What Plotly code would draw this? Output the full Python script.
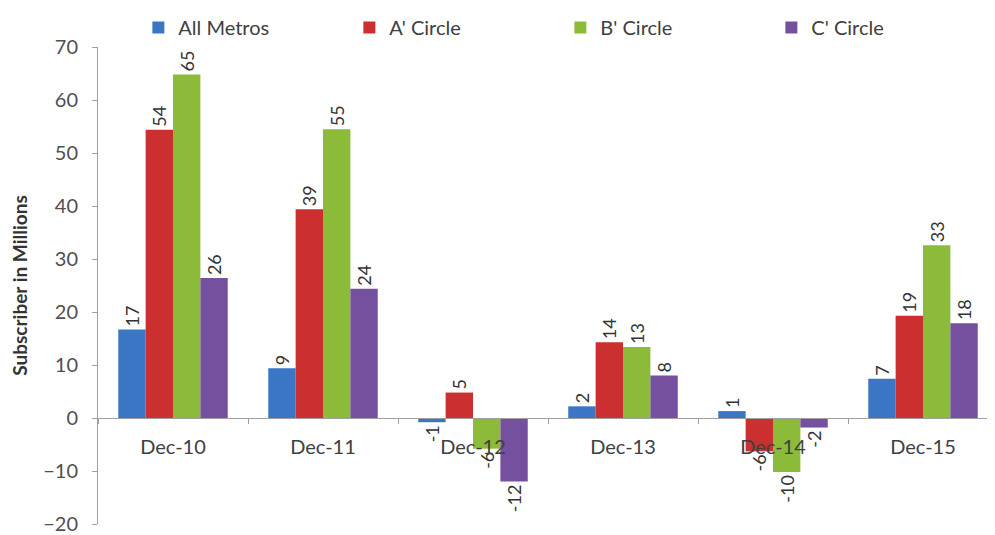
import plotly.graph_objects as go

categories = ["Dec-10", "Dec-11", "Dec-12", "Dec-13", "Dec-14", "Dec-15"]
all_metros = [16.7, 9.4, -0.8, 2.2, 1.3, 7.4]
a_circle = [54.4, 39.4, 4.8, 14.3, -6.3, 19.3]
b_circle = [64.8, 54.5, -5.8, 13.4, -10.2, 32.6]
c_circle = [26.4, 24.4, -12.0, 8.0, -1.8, 17.9]
series_names = ["All Metros", "A' Circle", "B' Circle", "C' Circle"]
y_ticks = [-20, -10, 0, 10, 20, 30, 40, 50, 60, 70]

colors = ["#3B76C4", "#CC2F2F", "#8CBB3A", "#74509E"]
FONT = "Lato, Liberation Sans, sans-serif"

fig = go.Figure()
for name, vals, col in zip(series_names, [all_metros, a_circle, b_circle, c_circle], colors):
    fig.add_trace(go.Bar(
        x=categories, y=vals, name=name,
        marker=dict(color=col, line=dict(width=0)),
        texttemplate="%{y:.0f}", textposition="outside", textangle=-90,
        constraintext="none", cliponaxis=False,
        textfont=dict(family=FONT, size=18, color="#333333"),
    ))

fig.update_layout(
    width=987, height=527,
    margin=dict(l=90, r=0, t=39, b=11, autoexpand=False),
    paper_bgcolor="white", plot_bgcolor="white",
    barmode="group", bargap=0.27, bargroupgap=0,
    font=dict(family=FONT, color="#404040"),
    showlegend=True,
    legend=dict(orientation="h", x=0.045, y=1.0, xref="paper", yref="container",
                yanchor="top", xanchor="left",
                entrywidth=166, entrywidthmode="pixels",
                font=dict(family=FONT, size=20, color="#404040"),
                traceorder="normal"),
    xaxis=dict(range=[-0.5, 5.48], anchor="free", position=20/90,
               showline=True, linecolor="#A0A0A0", linewidth=1,
               ticks="outside", tickson="boundaries", ticklen=5, tickcolor="#A0A0A0",
               ticklabelstandoff=11,
               tickfont=dict(family=FONT, size=20, color="#404040"),
               showgrid=False, zeroline=False),
    yaxis=dict(range=[-20, 70], tickvals=y_ticks, showline=True, linecolor="#A0A0A0",
               linewidth=1, ticks="outside", ticklen=5, tickcolor="#A0A0A0",
               ticklabelstandoff=10,
               tickfont=dict(family=FONT, size=20, color="#505050"),
               showgrid=False, zeroline=False,
               title=dict(text="<b>Subscriber in Millions</b>", standoff=12,
                          font=dict(family=FONT, size=19, color="#333333"))),
)

fig.write_html("out.html")
